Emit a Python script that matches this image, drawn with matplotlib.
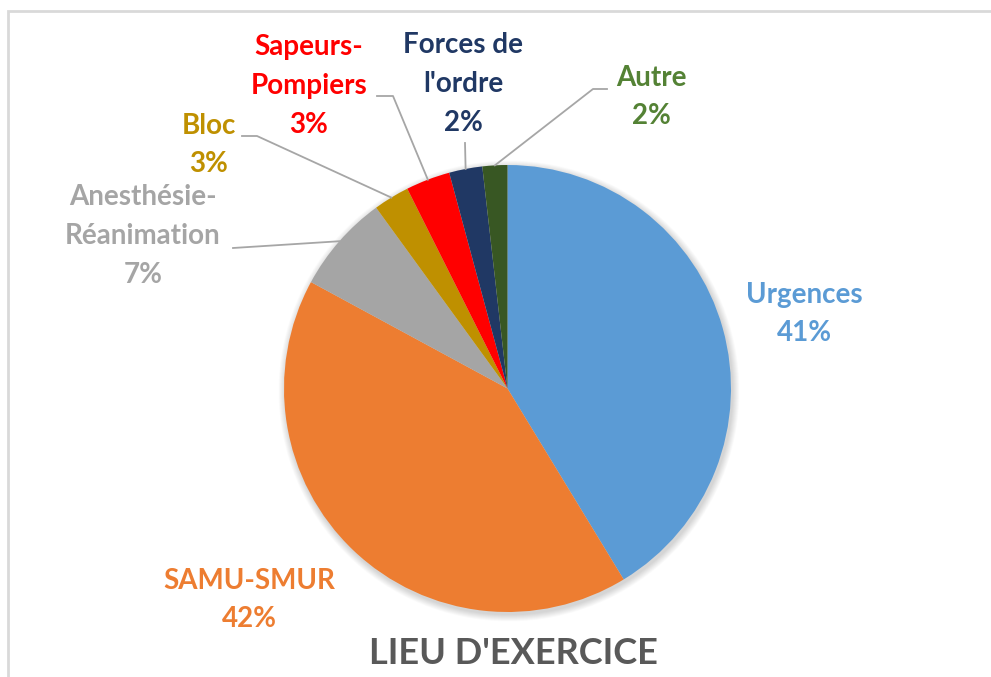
import numpy as np
import matplotlib
matplotlib.use("Agg")
import matplotlib.pyplot as plt
from matplotlib.patches import Circle, Rectangle

# ---- data ----
categories = ["Urgences", "SAMU-SMUR", "Anesthésie-\nRéanimation", "Bloc",
              "Sapeurs-\nPompiers", "Forces de\nl'ordre", "Autre"]
values = [41.3, 41.6, 7.1, 2.6, 3.2, 2.4, 1.8]
slice_colors = ["#5B9BD5", "#ED7D31", "#A5A5A5", "#BF9000", "#FF0000", "#203864", "#385723"]
label_colors = ["#5B9BD5", "#ED7D31", "#A5A5A5", "#BF9000", "#FF0000", "#203864", "#548235"]
title = "LIEU D'EXERCICE"

W, H = 991, 677
fig = plt.figure(figsize=(W / 100, H / 100), dpi=100)
ax = fig.add_axes([0, 0, 1, 1])
ax.set_xlim(0, W)
ax.set_ylim(0, H)
ax.set_aspect("equal")
ax.axis("off")

def P(x, y):  # pixel (top-left origin) -> data
    return x, H - y

plt.rcParams["font.family"] = ["Lato", "DejaVu Sans"]

# frame
ax.add_patch(Rectangle(P(8, 700), 1100, 700 - 11, fill=False, edgecolor="#D9D9D9", lw=2, zorder=0))

cx, cy = P(507.5, 388.5)
R = 223.5

# soft shadow
for i in range(14):
    ax.add_patch(Circle((cx + 1.5, cy - 2.5), R + 7 - i * 0.5, color="black",
                        alpha=0.012, lw=0, zorder=1))

wedges, _ = ax.pie(values, colors=slice_colors, startangle=90, counterclock=False,
                   center=(cx, cy), radius=R, wedgeprops=dict(linewidth=0),
                   frame=True)
for w in wedges:
    w.set_zorder(2)
ax.set_xlim(0, W)
ax.set_ylim(0, H)
ax.axis("off")

total = sum(values)
# label centres (pixel coords) and leader-line start points (None = no line)
label_pos = [(804, 314), (249, 600), (143, 236), (209, 145), (309, 86), (463, 84), (651, 97)]
leader = [None, None,
          [(233, 248)],
          [(242, 136), (257, 136)],
          [(377, 96), (393, 96)],
          [(465, 143)],
          [(607, 89), (593, 89)]]

for i, (name, v) in enumerate(zip(categories, values)):
    txt = f"{name}\n{round(v / total * 100):.0f}%"
    x, y = P(*label_pos[i])
    ax.text(x, y, txt, ha="center", va="center", color=label_colors[i],
            fontsize=20, fontweight="bold", linespacing=1.6, zorder=5)
    if leader[i] is not None:
        w = wedges[i]
        mid = np.deg2rad((w.theta1 + w.theta2) / 2)
        ex, ey = cx + R * np.cos(mid), cy + R * np.sin(mid)
        pts = [P(*p) for p in leader[i]] + [(ex, ey)]
        xs, ys = zip(*pts)
        ax.plot(xs, ys, color="#A6A6A6", lw=1.3, zorder=3)

tx, ty = P(513, 653)
ax.text(tx, ty, title, ha="center", va="center", color="#595959",
        fontsize=26, fontweight="bold", zorder=5)

fig.savefig("out.png", dpi=100)
